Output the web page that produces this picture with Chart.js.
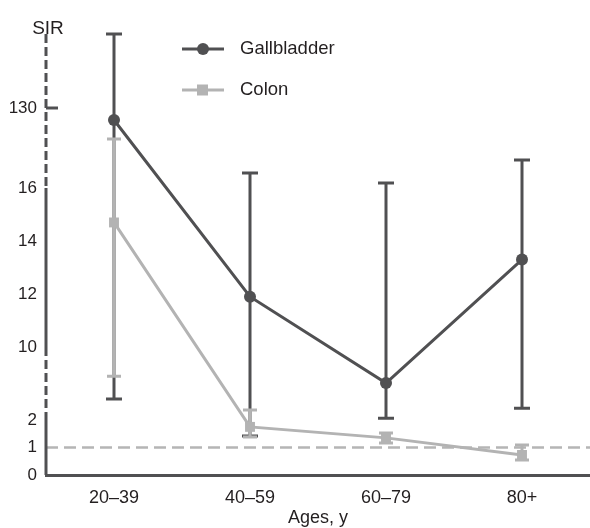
<!DOCTYPE html>
<html>
<head>
<meta charset="utf-8">
<script src="https://cdn.jsdelivr.net/npm/chart.js@4"></script>
<style>
  html, body { margin: 0; padding: 0; background: #fff; }
  #wrap { width: 590px; height: 528px; position: relative; }
</style>
</head>
<body>
<div id="wrap"><canvas id="sirChart"></canvas></div>
<script>
// Data (SIR with 95% CI)
const ages = ['20–39', '40–59', '60–79', '80+'];
const gallbladderSIR = [118, 11.9, 6.05, 13.3];
const gallbladderLow = [4.3, 1.42, 2.2, 3.3];
const gallbladderHigh = [204, 21.5, 17.8, 26.3];
const colonSIR = [14.7, 1.75, 1.35, 0.73];
const colonLow = [6.8, 1.38, 1.16, 0.55];
const colonHigh = [94, 3.1, 1.53, 1.09];
const yTicks = [0, 1, 2, 10, 12, 14, 16, 130];
const refValue = 1;

// Broken y axis: value breakpoints and their relative heights on the axis
const breakValues = [0, 2, 10, 16, 30, 100, 130, 250];
const breakHeights = [0, 55, 128, 287, 325, 337, 367, 487];

const DARK = '#505052';
const LIGHT = '#b3b3b3';
const TEXT = '#231f20';
const FONT = "'Liberation Sans', Arial, sans-serif";

function toAxis(v) {
  for (let i = 0; i < breakValues.length - 1; i++) {
    if (v <= breakValues[i + 1] || i === breakValues.length - 2) {
      const t = (v - breakValues[i]) / (breakValues[i + 1] - breakValues[i]);
      return breakHeights[i] + t * (breakHeights[i + 1] - breakHeights[i]);
    }
  }
}
function fromAxis(h) {
  for (let i = 0; i < breakHeights.length - 1; i++) {
    if (h <= breakHeights[i + 1] || i === breakHeights.length - 2) {
      const t = (h - breakHeights[i]) / (breakHeights[i + 1] - breakHeights[i]);
      return breakValues[i] + t * (breakValues[i + 1] - breakValues[i]);
    }
  }
}

// Linear scale with piecewise (broken) mapping
class BrokenScale extends Chart.LinearScale {
  getPixelForValue(value) {
    if (value === null || value === undefined) return NaN;
    return this.getPixelForDecimal(toAxis(value) / toAxis(this.max));
  }
  getValueForPixel(pixel) {
    return fromAxis(this.getDecimalForPixel(pixel) * toAxis(this.max));
  }
}
BrokenScale.id = 'broken';
BrokenScale.defaults = Chart.LinearScale.defaults;
Chart.register(BrokenScale);

const errorBars = {
  0: { low: colonLow, high: colonHigh, color: LIGHT, cap: 14 },
  1: { low: gallbladderLow, high: gallbladderHigh, color: DARK, cap: 16 }
};

const sirPlugin = {
  id: 'sirPlugin',
  beforeDatasetsDraw(chart) {
    const { ctx, chartArea } = chart;
    const y = chart.scales.y;
    // reference line at SIR = 1
    ctx.save();
    ctx.strokeStyle = '#b5b5b5';
    ctx.lineWidth = 2.5;
    ctx.setLineDash([12, 6]);
    const py = y.getPixelForValue(refValue);
    ctx.beginPath();
    ctx.moveTo(chartArea.left, py);
    ctx.lineTo(chartArea.right, py);
    ctx.stroke();
    ctx.restore();
  },
  beforeDatasetDraw(chart, args) {
    const eb = errorBars[args.index];
    if (!eb) return;
    const { ctx } = chart;
    const x = chart.scales.x, y = chart.scales.y;
    ctx.save();
    ctx.strokeStyle = eb.color;
    ctx.lineWidth = 3;
    eb.low.forEach((lo, i) => {
      const px = x.getPixelForValue(i);
      const pl = y.getPixelForValue(lo);
      const ph = y.getPixelForValue(eb.high[i]);
      ctx.beginPath();
      ctx.moveTo(px, pl); ctx.lineTo(px, ph);
      ctx.moveTo(px - eb.cap / 2, pl); ctx.lineTo(px + eb.cap / 2, pl);
      ctx.moveTo(px - eb.cap / 2, ph); ctx.lineTo(px + eb.cap / 2, ph);
      ctx.stroke();
    });
    ctx.restore();
  },
  afterDraw(chart) {
    const { ctx, chartArea } = chart;
    const y = chart.scales.y;
    const ax = chartArea.left;
    ctx.save();
    // broken y axis line
    ctx.strokeStyle = DARK;
    ctx.lineWidth = 3;
    const seg = (v0, v1, dashed) => {
      ctx.setLineDash(dashed ? [9, 4] : []);
      ctx.beginPath();
      ctx.moveTo(ax, v0 === null ? chartArea.top : y.getPixelForValue(v0));
      ctx.lineTo(ax, y.getPixelForValue(v1));
      ctx.stroke();
    };
    seg(null, 16, true);
    seg(16, 10, false);
    seg(10, 2, true);
    seg(2, 0, false);
    ctx.setLineDash([]);
    const p130 = y.getPixelForValue(130);
    ctx.beginPath();
    ctx.moveTo(ax, p130); ctx.lineTo(ax + 12, p130);
    ctx.stroke();

    // axis title
    ctx.fillStyle = TEXT;
    ctx.font = '19px ' + FONT;
    ctx.textAlign = 'center';
    ctx.textBaseline = 'alphabetic';
    ctx.fillText('SIR', ax + 2, 34);

    // legend
    const items = [
      { label: 'Gallbladder', color: DARK, shape: 'circle', y: 49 },
      { label: 'Colon', color: LIGHT, shape: 'rect', y: 90 }
    ];
    items.forEach(it => {
      ctx.strokeStyle = it.color;
      ctx.fillStyle = it.color;
      ctx.lineWidth = 3;
      ctx.beginPath();
      ctx.moveTo(182, it.y); ctx.lineTo(224, it.y);
      ctx.stroke();
      if (it.shape === 'circle') {
        ctx.beginPath();
        ctx.arc(203, it.y, 6, 0, Math.PI * 2);
        ctx.fill();
      } else {
        ctx.fillRect(197, it.y - 5.5, 11, 11);
      }
      ctx.fillStyle = TEXT;
      ctx.textAlign = 'left';
      ctx.textBaseline = 'middle';
      ctx.font = '18.5px ' + FONT;
      ctx.fillText(it.label, 240, it.y);
    });
    ctx.restore();
  }
};

new Chart(document.getElementById('sirChart'), {
  type: 'line',
  data: {
    labels: ages,
    datasets: [
      {
        label: 'Colon',
        data: colonSIR,
        borderColor: LIGHT,
        backgroundColor: LIGHT,
        borderWidth: 3,
        pointStyle: 'rect',
        pointRadius: 7,
        pointBorderWidth: 0,
        tension: 0,
        order: 0
      },
      {
        label: 'Gallbladder',
        data: gallbladderSIR,
        borderColor: DARK,
        backgroundColor: DARK,
        borderWidth: 3,
        pointStyle: 'circle',
        pointRadius: 6,
        pointBorderWidth: 0,
        tension: 0,
        order: 1
      }
    ]
  },
  options: {
    responsive: true,
    maintainAspectRatio: false,
    animation: false,
    layout: { autoPadding: false, padding: { top: 34, right: 0, left: 0, bottom: 0 } },
    plugins: {
      legend: { display: false },
      tooltip: { enabled: false }
    },
    scales: {
      x: {
        type: 'category',
        offset: true,
        grid: { display: false, drawTicks: false },
        border: { display: true, color: DARK, width: 3 },
        ticks: { color: TEXT, font: { size: 18, family: FONT }, padding: 12, maxRotation: 0 },
        title: { display: true, text: 'Ages, y', color: TEXT, font: { size: 18, family: FONT, lineHeight: 1.1 }, padding: { top: 0, bottom: 0 } },
        afterFit: scale => { scale.height = 53; }
      },
      y: {
        type: 'broken',
        min: 0,
        max: 204,
        grid: { display: false, drawTicks: false },
        border: { display: false },
        ticks: {
          color: TEXT,
          font: { size: 17, family: FONT },
          padding: 9,
          autoSkip: false,
          callback: v => String(v)
        },
        afterBuildTicks: scale => { scale.ticks = yTicks.map(v => ({ value: v })); },
        afterFit: scale => { scale.width = 46; }
      }
    }
  },
  plugins: [sirPlugin]
});
</script>
</body>
</html>
